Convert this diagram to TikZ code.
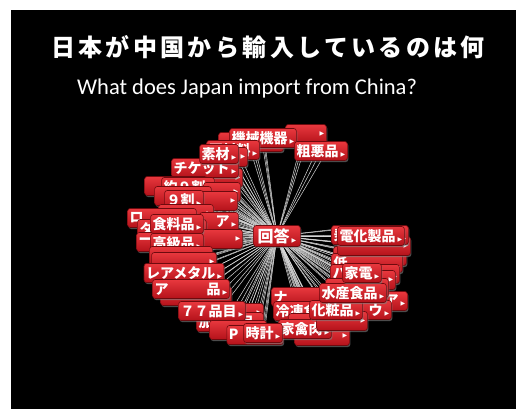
\documentclass[tikz,border=0pt]{standalone}
\usepackage{fontspec}
\usetikzlibrary{shadows}
\newfontfamily\jp{Noto Sans CJK JP}
\newfontfamily\jptitle{Noto Sans CJK JP}[LetterSpace=14]
\newfontfamily\carlito{Carlito}
\newfontfamily\dv{DejaVu Sans}
\definecolor{btntop}{RGB}{232,56,62}
\definecolor{btnbot}{RGB}{180,18,26}
\definecolor{btnline}{RGB}{110,10,14}
\definecolor{connc}{RGB}{215,215,215}
\pgfdeclarelayer{bg}\pgfdeclarelayer{lines}
\pgfsetlayers{bg,lines,main}
\newcommand\btntext[1]{#1\hspace{2pt}{\dv\fontsize{6}{6}\selectfont ▶}}
\newcommand\blank[1]{\hspace{#1pt}}
\tikzset{
  btn/.style={rounded corners=2.5pt, draw=btnline, line width=0.6pt,
    top color=btntop, bottom color=btnbot, text=white,
    font=\jp\bfseries\fontsize{14}{14}\selectfont,
    inner xsep=2pt, inner ysep=0pt, minimum height=19pt,
    drop shadow={shadow xshift=1pt, shadow yshift=-1.5pt, opacity=0.6}},
  bigbtn/.style={btn, font=\jp\bfseries\fontsize{16}{16}\selectfont, inner xsep=4pt, minimum height=21pt},
  conn/.style={draw=connc, line width=0.5pt},
}
\begin{document}
\begin{tikzpicture}[x=1pt,y=-1pt]
\useasboundingbox (0,0) rectangle (516,409);
\begin{pgfonlayer}{bg}
\fill[white] (0,0) rectangle (516,409);
\fill[black] (11,10) rectangle (516,409);
\end{pgfonlayer}
\node[text=white, font=\jptitle\bfseries\fontsize{24}{24}\selectfont] (title) at (268,47) {日本が中国から輸入しているのは何};
\node[text=white, font=\carlito\fontsize{22.5}{22.5}\selectfont, anchor=west, inner sep=0pt] (sub) at (77,89) {What does Japan import from China?};

% top cluster
\node[btn] (t1) at (306,134) {\btntext{\blank{30}}};
\node[btn] (t2) at (251,142) {\btntext{\blank{54}}};
\node[btn] (kikai) at (263,138) {\btntext{機械機器}};
\node[btn] (soaku) at (321,151) {\btntext{粗悪品}};
\node[btn] (t3) at (233,150) {\btntext{原材料}};
\node[btn] (t4) at (226,157) {\btntext{\blank{32}}};
\node[btn] (t5) at (210,178) {\btntext{\blank{54}}};
\node[btn] (ticket) at (205,168) {\btntext{チケット}};
\node[btn] (sozai) at (219,154) {\btntext{素材}};

% left cluster
\node[btn] (l1) at (176,186) {\btntext{\blank{52}}};
\node[btn] (l2) at (188,187) {\btntext{約９割}};
\node[btn] (l3) at (222,192) {\btntext{\blank{26}}};
\node[btn] (l4) at (183,196) {\btntext{\blank{46}}};
\node[btn] (l5) at (217,201) {\btntext{\blank{30}}};
\node[btn] (kyu) at (184,200) {\btntext{９割}};
\node[btn] (l6) at (186,214) {\btntext{\blank{44}}};
\node[btn] (l7) at (162,218) {\btntext{ロ\blank{44}}};
\node[btn] (l8) at (219,222) {\btntext{\blank{14}ア}};
\node[btn] (l9) at (172,229) {\btntext{タ\blank{44}}};
\node[btn] (l10) at (222,239) {\btntext{\blank{30}}};
\node[btn] (l11) at (168,242) {\btntext{ー\blank{38}}};
\node[btn] (shoku) at (177,224) {\btntext{食料品}};
\node[btn] (koukyu) at (177,243) {\btntext{高級品}};
\node[btn] (l12) at (181,256) {\btntext{\blank{52}}};
\node[btn] (l13) at (184,262) {\btntext{\blank{54}}};
\node[btn] (rare) at (184,273) {\btntext{レアメタル}};
\node[btn] (l14) at (196,296) {\btntext{\blank{60}}};
\node[btn] (l15) at (191,289) {\btntext{ア\blank{38}品}};
\node[btn] (l17) at (252,313) {\btntext{\blank{12}}};
\node[btn] (l18) at (230,322) {\btntext{加工食品}};
\node[btn] (nana) at (212,311) {\btntext{７７品目}};
\node[btn] (l19) at (238,330) {\btntext{\blank{46}}};
\node[btn] (l20) at (255,335) {\btntext{P\blank{36}}};

% bottom right cluster
\node[btn] (b1) at (303,297) {\btntext{ナ\blank{38}}};
\node[btn] (b2) at (307,311) {\btntext{冷凍食品}};
\node[btn] (b3) at (315,323) {\btntext{\blank{42}}};
\node[btn] (b4) at (322,336) {\btntext{\blank{44}}};
\node[btn] (kakin) at (305,329) {\btntext{家禽肉}};
\node[btn] (tokei) at (263,333) {\btntext{時計}};
\node[btn] (b5) at (387,301) {\btntext{\blank{16}ア}};
\node[btn] (b6) at (369,310) {\btntext{\blank{20}ウ}};
\node[btn] (b7) at (342,321) {\btntext{\blank{40}}};
\node[btn] (kesho) at (336,310) {\btntext{化粧品}};
\node[btn] (b9) at (370,256) {\btntext{\blank{62}}};
\node[btn] (b10) at (367,263) {\btntext{低\blank{46}}};
\node[btn] (b11) at (365,274) {\btntext{ハ\blank{44}}};
\node[btn] (b12) at (373,280) {\btntext{\blank{34}}};
\node[btn] (b8) at (357,288) {\btntext{\blank{52}}};
\node[btn] (suisan) at (353,293) {\btntext{水産食品}};
\node[btn] (kaden) at (362,273) {\btntext{家電}};
\node[btn] (b14) at (374,246) {\btntext{\blank{62}}};
\node[btn] (b13) at (370,235) {\btntext{乗\blank{52}}};
\node[btn] (denka) at (371,236) {\btntext{電化製品}};

% center
\node[bigbtn] (ans) at (277,236) {\btntext{回答}};

\begin{pgfonlayer}{lines}
\foreach \n in {t1,t2,kikai,soaku,t3,t4,t5,ticket,sozai,l1,l2,l3,l4,l5,kyu,l6,l7,l8,l9,l10,l11,shoku,koukyu,l12,l13,rare,l14,l15,l17,l18,nana,l19,l20,b1,b2,b3,b4,kakin,tokei,b5,b6,b7,kesho,b9,b10,b11,b12,b8,suisan,kaden,b14,b13,denka}
  {\draw[conn] (ans.center) -- (\n.center);
   \draw[conn] (ans.center) -- (\n.north);
   \draw[conn] (ans.center) -- (\n.south);}
\end{pgfonlayer}
\end{tikzpicture}
\end{document}
